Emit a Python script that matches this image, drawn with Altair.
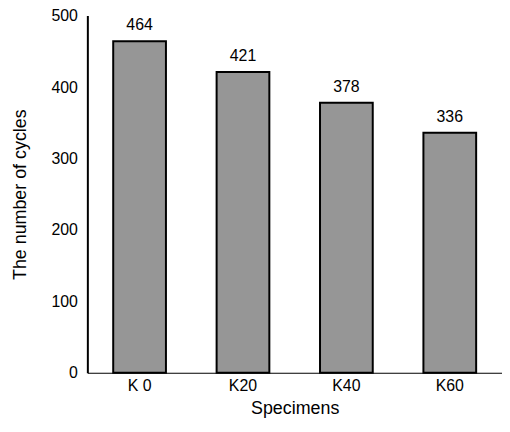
import altair as alt
import pandas as pd

specimens = ["K 0", "K20", "K40", "K60"]
cycles = [464, 421, 378, 336]

df = pd.DataFrame({"Specimen": specimens, "Cycles": cycles})

FONT = "Liberation Sans"

base = alt.Chart(df).encode(
    x=alt.X("Specimen:N", sort=specimens, title="Specimens",
            scale=alt.Scale(paddingInner=0.49, paddingOuter=0.25),
            axis=alt.Axis(labelAngle=0, ticks=False, labelPadding=5,
                          titlePadding=6, domainColor="black", domainWidth=1.2,
                          labelFontSize=16, titleFontSize=18,
                          labelColor="black", titleColor="black",
                          labelFont=FONT, titleFont=FONT, titleFontWeight="normal")),
    y=alt.Y("Cycles:Q", title="The number of cycles",
            scale=alt.Scale(domain=[0, 500]),
            axis=alt.Axis(values=[0, 100, 200, 300, 400, 500], ticks=False, grid=False,
                          labelPadding=10, titlePadding=22, domainColor="black", domainWidth=2,
                          labelFontSize=16, titleFontSize=18,
                          labelColor="black", titleColor="black",
                          labelFont=FONT, titleFont=FONT, titleFontWeight="normal")),
)

bars = base.mark_bar(color="#969696", stroke="black", strokeWidth=2)
labels = base.mark_text(dy=-16, fontSize=16, font=FONT, color="black").encode(text="Cycles:Q")

chart = (bars + labels).properties(
    width=418, height=360,
    autosize=alt.AutoSizeParams(type="none"),
    padding={"left": 80, "top": 6, "right": 0, "bottom": 50},
).configure_view(stroke=None)

chart.save("out.html", embed_options={"renderer": "svg", "actions": False})
